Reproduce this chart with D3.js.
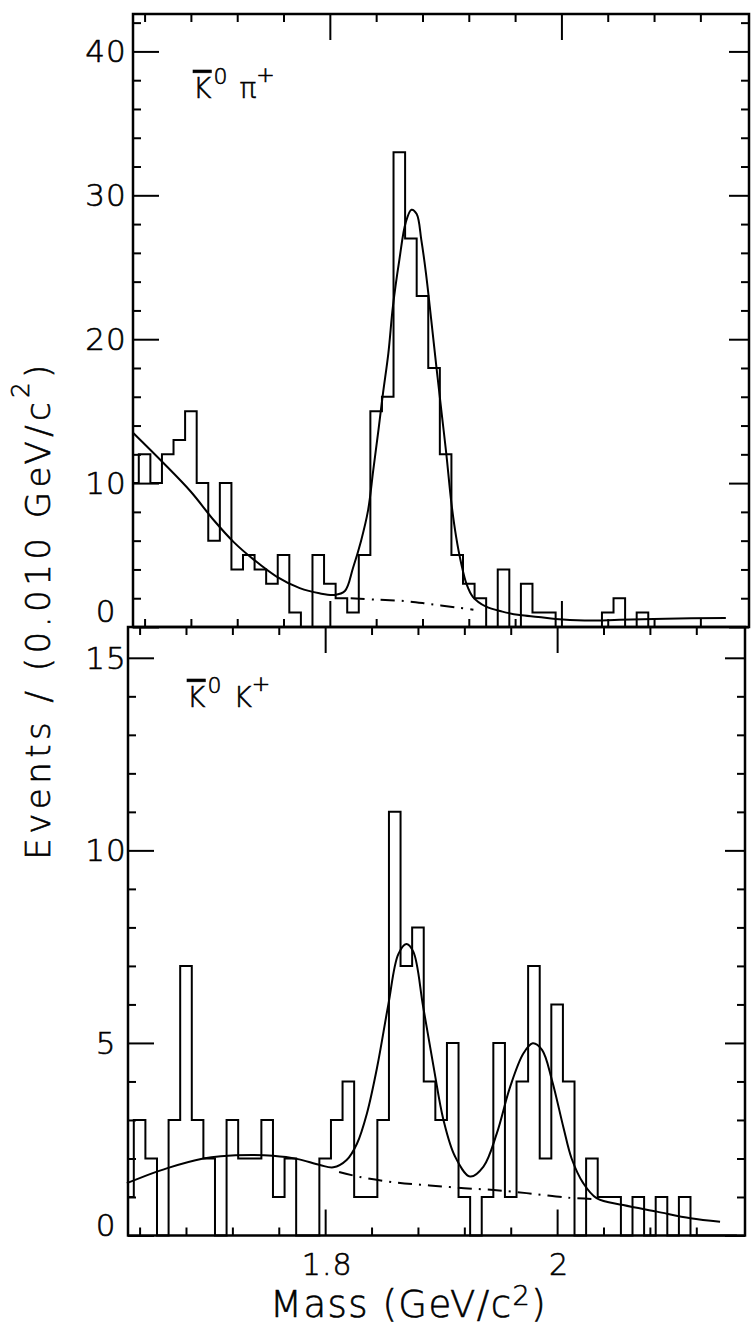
<!DOCTYPE html>
<html>
<head>
<meta charset="utf-8">
<script src="https://cdn.jsdelivr.net/npm/d3@7"></script>
<style>
  body { margin: 0; background: #fff; }
  svg text { font-family: 'DejaVu Sans', sans-serif; font-weight: 200; fill: #000;
             stroke: #000; stroke-width: 0.6px; }
</style>
</head>
<body>
<svg id="chart" width="751" height="1332"></svg>
<script>
// bin centres in GeV/c^2, each bin is 0.010 wide
var massBins = [1.63, 1.64, 1.65, 1.66, 1.67, 1.68, 1.69, 1.70, 1.71, 1.72,
                1.73, 1.74, 1.75, 1.76, 1.77, 1.78, 1.79, 1.80, 1.81, 1.82,
                1.83, 1.84, 1.85, 1.86, 1.87, 1.88, 1.89, 1.90, 1.91, 1.92,
                1.93, 1.94, 1.95, 1.96, 1.97, 1.98, 1.99, 2.00, 2.01, 2.02,
                2.03, 2.04, 2.05, 2.06, 2.07, 2.08, 2.09, 2.10, 2.11, 2.12,
                2.13, 2.14, 2.15];
var binWidth = 0.010;

// K0bar pi+ events per bin
var kpiCounts = [10, 12, 10, 12, 13, 15, 10, 6, 10, 4,
                 5, 4, 3, 5, 1, 0, 5, 3, 2, 1,
                 5, 15, 16, 33, 27, 23, 18, 12, 5, 3,
                 2, 0, 4, 0, 3, 1, 1, 0, 0, 0,
                 0, 1, 2, 0, 1, 0, 0, 0, 0, 0,
                 0, 0, 0];

// K0bar K+ events per bin
var kkCounts = [1, 3, 2, 0, 3, 7, 3, 2, 0, 3,
                2, 2, 3, 1, 2, 0, 0, 2, 3, 4,
                1, 1, 3, 11, 7, 8, 4, 3, 5, 1,
                0, 1, 5, 1, 4, 7, 2, 6, 4, 0,
                2, 1, 1, 0, 1, 0, 1, 0, 1, 0,
                0, 0, 0];

// fitted curves
var kpiFitMass = [1.630, 1.655, 1.680, 1.700, 1.717, 1.734, 1.754, 1.774, 1.791, 1.804,
                  1.813, 1.820, 1.827, 1.833, 1.8375, 1.842, 1.846, 1.8505, 1.8545, 1.860,
                  1.8655, 1.8705, 1.875, 1.879, 1.883, 1.8875, 1.892, 1.8965, 1.9005, 1.905,
                  1.909, 1.9135, 1.918, 1.9235, 1.935, 1.949, 1.964, 1.980, 1.995, 2.020,
                  2.050, 2.090, 2.142];
var kpiFitValue = [13.5, 11.5, 9.4, 7.4, 5.9, 4.7, 3.5, 2.7, 2.34, 2.23,
                   2.5, 4.1, 6.0, 8.1, 10.9, 13.7, 16.3, 19.0, 22.3, 25.5,
                   28.1, 29.0, 28.7, 26.9, 24.6, 21.4, 18.1, 14.9, 12.1, 8.6,
                   6.3, 4.4, 3.0, 2.1, 1.41, 1.07, 0.83, 0.7, 0.55, 0.45,
                   0.5, 0.58, 0.62];
var kpiBgMass = [1.818, 1.840, 1.865, 1.886, 1.910, 1.924];
var kpiBgValue = [2.0, 1.9, 1.8, 1.6, 1.35, 1.2];

var kkFitMass = [1.629, 1.664, 1.695, 1.710, 1.738, 1.755, 1.7755, 1.7955, 1.807, 1.8185,
                 1.8275, 1.836, 1.845, 1.8545, 1.863, 1.870, 1.876, 1.8845, 1.8935, 1.902,
                 1.912, 1.925, 1.9365, 1.948, 1.9595, 1.971, 1.979, 1.987, 1.9955, 2.0055,
                 2.0125, 2.0225, 2.034, 2.057, 2.086, 2.115, 2.1405];
var kkFitValue = [1.36, 1.75, 2.0, 2.06, 2.09, 2.07, 1.99, 1.83, 1.77, 1.96,
                  2.39, 3.17, 4.4, 6.0, 7.3, 7.57, 7.37, 5.94, 4.38, 3.0,
                  2.05, 1.53, 1.79, 2.65, 3.86, 4.73, 4.99, 4.82, 4.04, 2.8,
                  2.0, 1.36, 0.97, 0.79, 0.62, 0.45, 0.36];
var kkBgMass = [1.812, 1.830, 1.860, 1.890, 1.920, 1.950, 1.980, 2.010, 2.030];
var kkBgValue = [1.65, 1.52, 1.38, 1.30, 1.23, 1.17, 1.08, 0.98, 0.95];

// ticks
var massMajorTicks = [1.8, 2.0];
var massMinorTicks = [1.64, 1.68, 1.72, 1.76, 1.84, 1.88, 1.92, 1.96, 2.04, 2.08, 2.12];
var kpiMajorTicks = [0, 10, 20, 30, 40];
var kpiMinorTicks = [2, 4, 6, 8, 12, 14, 16, 18, 22, 24, 26, 28, 32, 34, 36, 38, 42];
var kkMajorTicks = [0, 5, 10, 15];
var kkMinorTicks = [1, 2, 3, 4, 6, 7, 8, 9, 11, 12, 13, 14];

var svg = d3.select('#chart');
var massDomain = [1.63, 2.162];

function stepPoints(centers, counts) {
    var pts = [];
    centers.forEach(function(c, i) {
        var lo = Math.max(c - binWidth / 2, massDomain[0]);
        var hi = Math.min(c + binWidth / 2, massDomain[1]);
        pts.push([lo, counts[i]], [hi, counts[i]]);
    });
    pts.unshift([pts[0][0], 0]);
    pts.push([pts[pts.length - 1][0], 0]);
    return pts;
}

function drawPanel(p) {
    var x = d3.scaleLinear().domain(massDomain).range([p.left, p.right]);
    var y = d3.scaleLinear().domain([0, p.yMax]).range([p.bottom, p.top]);
    var g = svg.append('g');

    // inward ticks on all four sides
    function addAxis(axis, tx, ty) {
        var a = g.append('g')
            .attr('transform', 'translate(' + tx + ',' + ty + ')')
            .call(axis.tickFormat(''));
        a.select('.domain').remove();
        a.selectAll('line').attr('stroke', '#000').attr('stroke-width', 2);
    }
    addAxis(d3.axisLeft(y).tickValues(p.minors).tickSize(-8), p.left, 0);
    addAxis(d3.axisLeft(y).tickValues(p.majors).tickSize(-26), p.left, 0);
    addAxis(d3.axisRight(y).tickValues(p.minors).tickSize(-8), p.right, 0);
    addAxis(d3.axisRight(y).tickValues(p.majors).tickSize(-20), p.right, 0);
    addAxis(d3.axisTop(x).tickValues(massMinorTicks).tickSize(-8), 0, p.top);
    addAxis(d3.axisTop(x).tickValues(massMajorTicks).tickSize(-26), 0, p.top);
    addAxis(d3.axisBottom(x).tickValues(massMinorTicks).tickSize(-8), 0, p.bottom);
    addAxis(d3.axisBottom(x).tickValues(massMajorTicks).tickSize(-26), 0, p.bottom);

    // frame
    g.append('rect')
        .attr('x', p.left).attr('y', p.top)
        .attr('width', p.right - p.left).attr('height', p.bottom - p.top)
        .attr('fill', 'none').attr('stroke', '#000').attr('stroke-width', 2.5);

    var line = d3.line()
        .x(function(d) { return x(d[0]); })
        .y(function(d) { return y(d[1]); });

    // histogram
    g.append('path')
        .datum(stepPoints(massBins, p.counts))
        .attr('d', line)
        .attr('fill', 'none').attr('stroke', '#000').attr('stroke-width', 2)
        .attr('stroke-linejoin', 'miter');

    var smooth = d3.line()
        .x(function(d) { return x(d[0]); })
        .y(function(d) { return y(d[1]); })
        .curve(d3.curveCatmullRom.alpha(0.5));

    // background (dash-dot)
    g.append('path')
        .datum(d3.zip(p.bgM, p.bgV))
        .attr('d', smooth)
        .attr('fill', 'none').attr('stroke', '#000').attr('stroke-width', 2)
        .attr('stroke-dasharray', '14,7,2,7');

    // total fit
    g.append('path')
        .datum(d3.zip(p.fitM, p.fitV))
        .attr('d', smooth)
        .attr('fill', 'none').attr('stroke', '#000').attr('stroke-width', 2);

    // y tick labels
    g.selectAll('.ylab')
        .data(p.majors)
        .enter().append('text')
        .attr('class', 'ylab')
        .attr('x', 106)
        .attr('y', function(d) { return d === 0 ? y(0) - p.zeroLift : y(d) + 11; })
        .attr('text-anchor', 'middle')
        .attr('font-size', 31)
        .attr('letter-spacing', 1)
        .text(function(d) { return d; });

    // channel label
    var t = g.append('text')
        .attr('x', p.labelX).attr('y', p.labelY)
        .attr('font-size', 28);
    t.append('tspan').style('text-decoration', 'overline').text('K');
    t.append('tspan').attr('dy', -14).attr('dx', 2).attr('font-size', 22).text('0');
    t.append('tspan').attr('dy', 14).attr('dx', 12).text(p.partner);
    t.append('tspan').attr('dy', -16).attr('font-size', 22).text('+');

    return x;
}

drawPanel({
    counts: kpiCounts, fitM: kpiFitMass, fitV: kpiFitValue, bgM: kpiBgMass, bgV: kpiBgValue,
    majors: kpiMajorTicks, minors: kpiMinorTicks, yMax: 42.6,
    left: 133, right: 749, top: 14, bottom: 627, zeroLift: 5,
    labelX: 193, labelY: 98, partner: '\u03c0'
});
var xBottom = drawPanel({
    counts: kkCounts, fitM: kkFitMass, fitV: kkFitValue, bgM: kkBgMass, bgV: kkBgValue,
    majors: kkMajorTicks, minors: kkMinorTicks, yMax: 15.8,
    left: 128, right: 745, top: 627, bottom: 1235.5, zeroLift: 0,
    labelX: 187, labelY: 707, partner: 'K'
});

// mass tick labels
svg.selectAll('.xlab')
    .data(massMajorTicks)
    .enter().append('text')
    .attr('class', 'xlab')
    .attr('x', function(d) { return xBottom(d) + 2; })
    .attr('y', 1275)
    .attr('text-anchor', 'middle')
    .attr('font-size', 30)
    .attr('letter-spacing', 1)
    .text(function(d) { return d === 2 ? '2' : d3.format('.1f')(d); });

// axis titles
var xt = svg.append('text')
    .attr('x', 270).attr('y', 1317)
    .attr('font-size', 37).attr('letter-spacing', 1.5);
xt.append('tspan').text('Mass (GeV/c');
xt.append('tspan').attr('dy', -12).attr('font-size', 27).text('2');
xt.append('tspan').attr('dy', 12).text(')');

var yt = svg.append('text')
    .attr('transform', 'translate(50,610) rotate(-90)')
    .attr('text-anchor', 'middle')
    .attr('font-size', 34).attr('letter-spacing', 4.5);
yt.append('tspan').text('Events / (0.010 GeV/c');
yt.append('tspan').attr('dy', -21).attr('font-size', 24).text('2');
yt.append('tspan').attr('dy', 21).text(')');
</script>
</body>
</html>
